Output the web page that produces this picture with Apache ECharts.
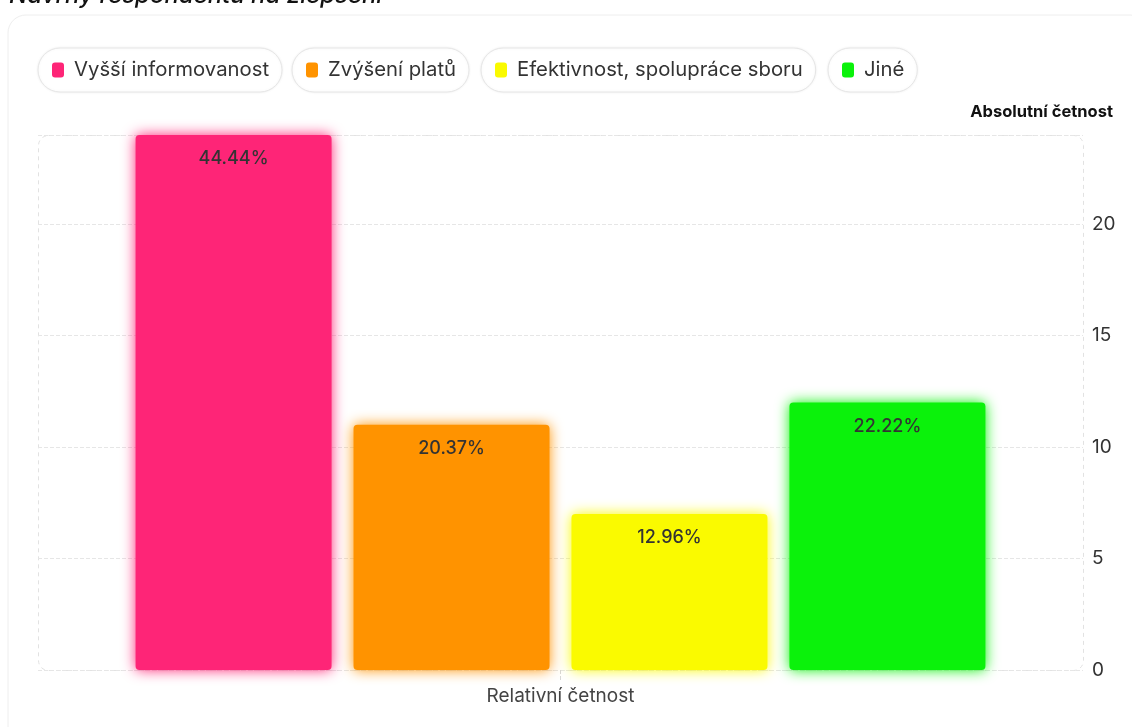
<!DOCTYPE html>
<html>
<head>
<meta charset="utf-8">
<script src="https://cdn.jsdelivr.net/npm/echarts@6/dist/echarts.min.js"></script>
<style>
html,body{margin:0;padding:0;background:#fff;}
#c{width:1132px;height:727px;}
</style>
</head>
<body>
<div id="c"></div>
<script>
const titleText = 'Návrhy respondentů na zlepšení';
const categories = ['Relativní četnost'];
const seriesNames = ['Vyšší informovanost', 'Zvýšení platů', 'Efektivnost, spolupráce sboru', 'Jiné'];
const seriesValues = [24, 11, 7, 12];
const seriesColors = ['#FE2577', '#FF9300', '#FAFA00', '#0BF20B'];
const yAxisName = 'Absolutní četnost';

const total = seriesValues.reduce((a, b) => a + b, 0);
const FONT = 'Inter, "Noto Sans", sans-serif';
const G = {left: 38, right: 49, top: 135, bottom: 57};
const W = 1132, H = 727;

const legendBoxes = [
  {left: 38, top: 48},
  {left: 292, top: 48},
  {left: 481, top: 48},
  {left: 828, top: 48}
];

const chart = echarts.init(document.getElementById('c'), null, {renderer: 'canvas'});

const option = {
  backgroundColor: '#fff',
  animation: false,
  textStyle: {fontFamily: FONT},
  title: {
    text: titleText,
    left: 4,
    top: -21,
    textStyle: {fontFamily: FONT, fontSize: 24, fontStyle: 'italic', fontWeight: 500, color: '#111'}
  },
  legend: seriesNames.map((n, i) => ({
    data: [n],
    left: legendBoxes[i].left,
    top: legendBoxes[i].top,
    padding: [12, 13, 12, 14],
    itemWidth: 12,
    itemHeight: 15,
    itemGap: 0,
    icon: 'roundRect',
    borderColor: '#e6e6e6',
    borderWidth: 1,
    borderRadius: 22,
    backgroundColor: '#fff',
    shadowColor: 'rgba(0,0,0,0.06)',
    shadowBlur: 3,
    textStyle: {fontFamily: FONT, fontSize: 20.3, color: '#333', padding: [0, 0, 0, 5]},
    selectedMode: false
  })),
  grid: {left: G.left, right: G.right, top: G.top, bottom: G.bottom},
  graphic: [
    {
      type: 'rect',
      shape: {x: 8, y: 15, width: 1140, height: 740, r: 18},
      style: {fill: 'none', stroke: '#eeeeee', lineWidth: 1},
      z: -10, silent: true
    },
    {
      type: 'rect',
      shape: {x: G.left + 0.5, y: G.top + 0.5, width: W - G.left - G.right, height: H - G.top - G.bottom, r: 10},
      style: {fill: 'none', stroke: '#e2e2e2', lineWidth: 1, lineDash: [4, 4]},
      z: -1, silent: true
    }
  ],
  xAxis: {
    type: 'category',
    data: categories,
    axisLine: {show: false},
    axisTick: {show: true, alignWithLabel: true, length: 10, lineStyle: {color: '#d8d8d8', type: 'dashed'}},
    axisLabel: {fontFamily: FONT, fontSize: 19, color: '#444', margin: 17}
  },
  yAxis: {
    type: 'value',
    position: 'right',
    min: 0,
    max: 24,
    interval: 5,
    name: yAxisName,
    nameLocation: 'end',
    nameGap: 14,
    nameTextStyle: {fontFamily: FONT, fontSize: 16.5, fontWeight: 'bold', color: '#111', align: 'right', padding: [0, -30, 0, 0]},
    axisLine: {show: false},
    axisTick: {show: false},
    axisLabel: {fontFamily: FONT, fontSize: 19, color: '#333', margin: 9, padding: [4, 0, 0, 0],
      formatter: v => (v % 5 === 0 ? String(v) : '')},
    splitLine: {show: true, lineStyle: {color: '#e6e6e6', type: 'dashed'}}
  },
  series: seriesNames.map((n, i) => ({
    name: n,
    type: 'bar',
    barWidth: 196,
    barGap: '11.2%',
    data: [seriesValues[i]],
    itemStyle: {
      color: seriesColors[i],
      borderRadius: 4,
      shadowColor: seriesColors[i],
      shadowBlur: 14
    },
    label: {
      show: true,
      position: 'insideTop',
      distance: 15,
      fontFamily: FONT,
      fontSize: 18,
      fontWeight: 500,
      color: '#333',
      formatter: p => (p.value / total * 100).toFixed(2) + '%'
    }
  }))
};
chart.setOption(option);
</script>
</body>
</html>
